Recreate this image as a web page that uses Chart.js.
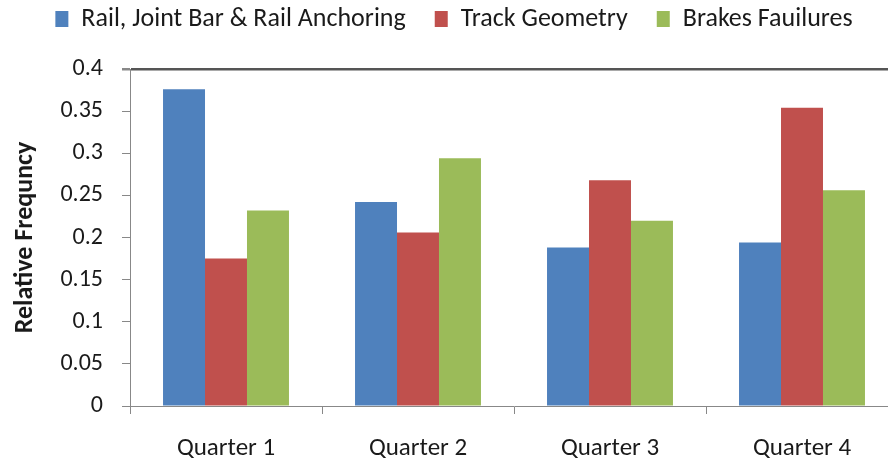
<!DOCTYPE html>
<html><head><meta charset="utf-8">
<script src="https://cdn.jsdelivr.net/npm/chart.js@4/dist/chart.umd.min.js"></script>
<style>html,body{margin:0;padding:0;background:#fff;overflow:hidden;width:888px;height:461px}
#wrap{width:900px;height:461px;position:relative}</style>
</head><body><div id="wrap"><canvas id="c" width="900" height="461"></canvas></div>
<script>
const categories = ["Quarter 1", "Quarter 2", "Quarter 3", "Quarter 4"];
const seriesNames = ["Rail, Joint Bar & Rail Anchoring", "Track Geometry", "Brakes Fauilures"];
const railJointBar = [0.376, 0.242, 0.188, 0.194];
const trackGeometry = [0.175, 0.206, 0.268, 0.354];
const brakesFailures = [0.232, 0.294, 0.220, 0.256];
const yTicks = [0, 0.05, 0.1, 0.15, 0.2, 0.25, 0.3, 0.35, 0.4];
const colors = ["#4F81BD", "#C0504D", "#9BBB59"];
const FONT = 'Carlito, "Liberation Sans", sans-serif';
const TEXT = '#1a1a1a';

const legendSpacer = {
  id: 'legendSpacer',
  afterInit(chart) {
    const lg = chart.legend;
    if (!lg) return;
    const orig = lg.fit;
    lg.fit = function () { orig.call(this); this.height += 27; };
  }
};

const series = [railJointBar, trackGeometry, brakesFailures];
new Chart(document.getElementById('c'), {
  type: 'bar',
  data: {
    labels: categories,
    datasets: series.map((d, i) => ({
      label: seriesNames[i], data: d, backgroundColor: colors[i],
      barPercentage: 1, categoryPercentage: 0.656, borderWidth: 0
    }))
  },
  plugins: [legendSpacer],
  options: {
    responsive: false, animation: false,
    layout: { padding: { left: 10, right: 2, top: -23, bottom: 0 } },
    plugins: {
      tooltip: { enabled: false },
      legend: {
        position: 'top',
        labels: { boxWidth: 13, boxHeight: 16, padding: 29, color: TEXT,
          font: { family: FONT, size: 26 } }
      }
    },
    scales: {
      x: {
        grid: { offset: true, drawOnChartArea: false, color: '#888', tickLength: 8, lineWidth: 1 },
        border: { color: '#888', width: 1 },
        ticks: { color: TEXT, padding: 20, font: { family: FONT, size: 25 } },
        afterFit: s => { s.height = 55; }
      },
      y: {
        min: 0, max: 0.4,
        afterBuildTicks: s => { s.ticks = yTicks.map(v => ({ value: v })); },
        grid: {
          color: ctx => (ctx.tick && ctx.tick.value === 0.4) ? '#555' : 'rgba(0,0,0,0)',
          lineWidth: ctx => (ctx.tick && ctx.tick.value === 0.4) ? 2.5 : 1,
          tickColor: '#888', tickLength: 8, drawTicks: true
        },
        border: { color: '#888', width: 1 },
        ticks: { color: TEXT, padding: 19, font: { family: FONT, size: 24 },
          callback: v => String(Number(v.toFixed(2))) },
        title: { display: true, text: 'Relative Frequncy', color: TEXT, padding: { top: 0, bottom: 0 },
          font: { family: FONT, size: 26, weight: 'bold' } },
        afterFit: s => { s.width = 120; }
      }
    }
  }
});
</script></body></html>
